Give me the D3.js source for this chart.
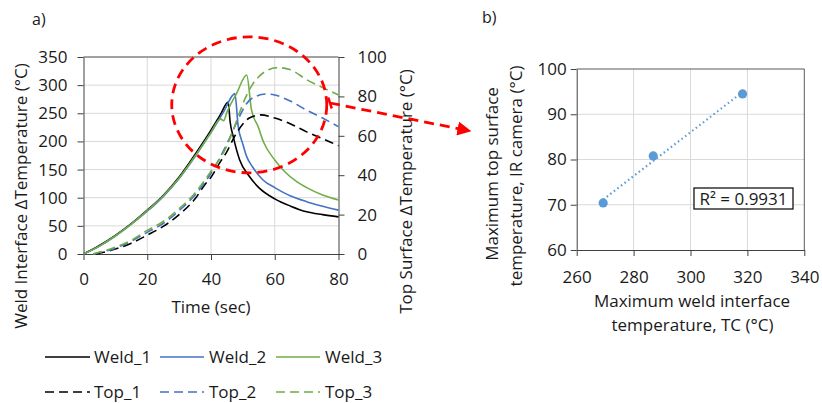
<!DOCTYPE html>
<html>
<head>
<meta charset="utf-8">
<script src="https://cdn.jsdelivr.net/npm/d3@7"></script>
<style>
  body { margin: 0; background: #fff; }
  svg { display: block; font-family: "Open Sans", sans-serif; }
</style>
</head>
<body>
<div id="visual"></div>
<script>
// panel a: weld interface (left axis) and top surface (right axis), [time, dT]
const weld1 = [[0,0],[5,15],[10,33],[15,54],[20,78],[25,104],[30,137],[35,177],[40,220],[43,248],[45.4,270],
               [46,235],[47,208],[49,167],[52,138],[55,118],[60,98],[65,85],[70,75],[75,70],[80,66]];
const weld2 = [[0,0],[5,14],[10,32],[15,53],[20,76],[25,102],[30,134],[35,173],[40,216],[44,253],[47.5,285],
               [48.5,228],[50,195],[51.2,173],[53,155],[56.4,131],[60,118],[65,103],[70,93],[75,85],[80,78]];
const weld3 = [[0,0],[5,14],[10,32],[15,53],[20,77],[25,103],[30,135],[35,174],[40,216],[43,240],[44,237],
               [45,252],[48,285],[51.2,318],[52.7,256],[54.8,226],[56.4,200],[60,167],[63,147],[67,128],
               [70,118],[75,105],[80,96]];
const top1 = [[4,0],[10,2.5],[15,5.5],[20,9.6],[25,14],[30,20],[35,28],[38,35],[40,39],[43,47],[45,52],
              [47.5,60],[50,66],[52,69],[55.5,70.6],[60,69],[65,66],[70,62],[75,58.5],[80,55]];
const top2 = [[3,0],[10,3],[15,6.5],[20,11],[25,15.5],[30,22],[35,30],[40,41],[45,56],[47,63],[49,70],
              [51,76],[54,80],[57.5,81.2],[60,80.7],[65,77.5],[70,73],[75,69],[80,64.6]];
const top3 = [[3,0],[10,3.5],[15,7],[20,12],[25,16.5],[30,23],[35,31],[40,42],[45,55],[47,63],[49,72],
              [51,80],[53,86],[55,90],[58,93.5],[61,94.6],[65,93.5],[70,88.5],[75,84.5],[80,80.7]];

const timeTicks = [0, 20, 40, 60, 80];
const weldTicks = [0, 50, 100, 150, 200, 250, 300, 350];
const topTicks = [0, 20, 40, 60, 80, 100];

// panel b: peak values
const maxWeld = [269.3, 286.9, 318.3];
const maxTop = [70.4, 80.8, 94.5];
const bxTicks = [260, 280, 300, 320, 340];
const byTicks = [60, 70, 80, 90, 100];

const black = "#000000", blue = "#4472C4", green = "#70AD47";
const series = [
  { name: "Weld_1", data: weld1, color: black, dash: null, axis: "L" },
  { name: "Weld_2", data: weld2, color: blue, dash: null, axis: "L" },
  { name: "Weld_3", data: weld3, color: green, dash: null, axis: "L" },
  { name: "Top_1", data: top1, color: black, dash: "9,5", axis: "R" },
  { name: "Top_2", data: top2, color: blue, dash: "9,5", axis: "R" },
  { name: "Top_3", data: top3, color: green, dash: "9,5", axis: "R" }
];

const svg = d3.select("#visual").append("svg")
  .attr("width", 822).attr("height", 403);

const defs = svg.append("defs");
defs.append("marker")
  .attr("id", "head").attr("viewBox", "0 0 10 10")
  .attr("refX", 9).attr("refY", 5)
  .attr("markerWidth", 5).attr("markerHeight", 5)
  .attr("orient", "auto")
  .append("path").attr("d", "M0,0 L10,5 L0,10 Z").attr("fill", "#ff0000");

function styleAxis(g, size) {
  g.select(".domain").attr("stroke", "#404040");
  g.selectAll(".tick line").attr("stroke", "#404040");
  g.selectAll("text").attr("font-size", size).attr("fill", "#1a1a1a")
    .attr("font-family", "'Open Sans', sans-serif");
}

// ---------- panel a ----------
const x = d3.scaleLinear().domain([0, 80]).range([83.5, 338.5]);
const yL = d3.scaleLinear().domain([0, 350]).range([254, 57]);
const yR = d3.scaleLinear().domain([0, 100]).range([254, 57]);

svg.append("g").selectAll("line").data(timeTicks.slice(1, -1)).enter().append("line")
  .attr("x1", d => x(d)).attr("x2", d => x(d)).attr("y1", 57).attr("y2", 254)
  .attr("stroke", "#d9d9d9");
svg.append("g").selectAll("line").data(weldTicks.slice(1)).enter().append("line")
  .attr("x1", 83.5).attr("x2", 338.5).attr("y1", d => yL(d)).attr("y2", d => yL(d))
  .attr("stroke", "#d9d9d9");
svg.append("line").attr("x1", 83.5).attr("x2", 338.5).attr("y1", 57).attr("y2", 57)
  .attr("stroke", "#595959");

svg.append("g").attr("transform", "translate(0,254)")
  .call(d3.axisBottom(x).tickValues(timeTicks).tickSize(6).tickSizeOuter(0).tickPadding(13))
  .call(g => styleAxis(g, 17));
svg.append("g").attr("transform", "translate(83.5,0)")
  .call(d3.axisLeft(yL).tickValues(weldTicks).tickSize(6).tickSizeOuter(0).tickPadding(10))
  .call(g => styleAxis(g, 17));
svg.append("g").attr("transform", "translate(338.5,0)")
  .call(d3.axisRight(yR).tickValues(topTicks).tickSize(6).tickSizeOuter(0).tickPadding(13))
  .call(g => styleAxis(g, 17));

series.forEach(s => {
  const yy = s.axis === "L" ? yL : yR;
  const line = d3.line().x(d => x(d[0])).y(d => yy(d[1])).curve(d3.curveMonotoneX);
  svg.append("path").datum(s.data)
    .attr("d", line).attr("fill", "none")
    .attr("stroke", s.color).attr("stroke-width", 1.6)
    .attr("stroke-dasharray", s.dash);
});

// axis titles a
svg.append("text").attr("transform", "translate(27,196) rotate(-90)")
  .attr("text-anchor", "middle").attr("font-size", 17).attr("fill", "#1a1a1a")
  .text("Weld Interface \u0394Temperature (\u00b0C)");
svg.append("text").attr("transform", "translate(411.5,191.5) rotate(-90)")
  .attr("text-anchor", "middle").attr("font-size", 17).attr("fill", "#1a1a1a")
  .text("Top Surface \u0394Temperature (\u00b0C)");
svg.append("text").attr("x", 211).attr("y", 313)
  .attr("text-anchor", "middle").attr("font-size", 17).attr("fill", "#1a1a1a")
  .text("Time (sec)");
svg.append("text").attr("x", 32).attr("y", 25)
  .attr("font-size", 16).attr("fill", "#1a1a1a").text("a)");

// legend
const legX = [[45, 90, 94], [160, 204, 209], [276, 320, 325]];
series.forEach((s, i) => {
  const col = i % 3, row = Math.floor(i / 3);
  const ly = row === 0 ? 357 : 392;
  const g = svg.append("g");
  g.append("line").attr("x1", legX[col][0]).attr("x2", legX[col][1])
    .attr("y1", ly).attr("y2", ly)
    .attr("stroke", s.color).attr("stroke-width", 1.6).attr("stroke-dasharray", s.dash);
  g.append("text").attr("x", legX[col][2]).attr("y", ly + 6)
    .attr("font-size", 17).attr("fill", "#1a1a1a").text(s.name);
});

// red highlight ellipse and arrow
svg.append("ellipse")
  .attr("cx", x(52)).attr("cy", yL(265)).attr("rx", 77.5).attr("ry", 68)
  .attr("fill", "none").attr("stroke", "#ff0000").attr("stroke-width", 2.8)
  .attr("stroke-dasharray", "10,6");
svg.append("line").attr("x1", 330).attr("y1", 103).attr("x2", 470).attr("y2", 131)
  .attr("stroke", "#ff0000").attr("stroke-width", 2.8).attr("stroke-dasharray", "10,6")
  .attr("marker-end", "url(#head)");
svg.append("line").attr("x1", 328.2).attr("y1", 97.5).attr("x2", 331.8).attr("y2", 108.5)
  .attr("stroke", "#ff0000").attr("stroke-width", 2.5);

// ---------- panel b ----------
const x2 = d3.scaleLinear().domain([260, 340]).range([576.7, 804.3]);
const y2 = d3.scaleLinear().domain([60, 100]).range([250, 69]);

svg.append("g").selectAll("line").data(bxTicks.slice(1, -1)).enter().append("line")
  .attr("x1", d => x2(d)).attr("x2", d => x2(d)).attr("y1", 69).attr("y2", 250)
  .attr("stroke", "#d9d9d9");
svg.append("g").selectAll("line").data(byTicks.slice(1, -1)).enter().append("line")
  .attr("x1", 576.7).attr("x2", 804.3).attr("y1", d => y2(d)).attr("y2", d => y2(d))
  .attr("stroke", "#d9d9d9");
svg.append("path").attr("d", `M576.7,69H804.3V250`).attr("fill", "none").attr("stroke", "#595959");

svg.append("g").attr("transform", "translate(0,250)")
  .call(d3.axisBottom(x2).tickValues(bxTicks).tickSize(6).tickSizeOuter(0).tickPadding(15))
  .call(g => styleAxis(g, 17));
svg.append("g").attr("transform", "translate(576.7,0)")
  .call(d3.axisLeft(y2).tickValues(byTicks).tickSize(6).tickSizeOuter(0).tickPadding(4))
  .call(g => styleAxis(g, 17));

// linear trend
const mx = d3.mean(maxWeld), my = d3.mean(maxTop);
const slope = d3.sum(maxWeld, (v, i) => (v - mx) * (maxTop[i] - my)) / d3.sum(maxWeld, v => (v - mx) ** 2);
const icpt = my - slope * mx;
const [xa, xb] = d3.extent(maxWeld);
svg.append("line")
  .attr("x1", x2(xa)).attr("y1", y2(icpt + slope * xa))
  .attr("x2", x2(xb)).attr("y2", y2(icpt + slope * xb))
  .attr("stroke", "#5B9BD5").attr("stroke-width", 2.2).attr("stroke-dasharray", "1.5,3");

svg.append("g").selectAll("circle").data(maxWeld).enter().append("circle")
  .attr("cx", d => x2(d)).attr("cy", (d, i) => y2(maxTop[i])).attr("r", 4.6)
  .attr("fill", "#5B9BD5");

svg.append("rect").attr("x", 694).attr("y", 188).attr("width", 99).attr("height", 21)
  .attr("fill", "#fff").attr("stroke", "#000").attr("stroke-width", 1.2);
svg.append("text").attr("x", 743.5).attr("y", 204.5).attr("text-anchor", "middle")
  .attr("font-size", 17).attr("fill", "#1a1a1a").text("R\u00b2 = 0.9931");

svg.append("text").attr("transform", "translate(498,174) rotate(-90)")
  .attr("text-anchor", "middle").attr("font-size", 17).attr("fill", "#1a1a1a")
  .text("Maximum top surface");
svg.append("text").attr("transform", "translate(522,176) rotate(-90)")
  .attr("text-anchor", "middle").attr("font-size", 17).attr("fill", "#1a1a1a")
  .text("temperature, IR camera (\u00b0C)");
svg.append("text").attr("x", 692).attr("y", 307)
  .attr("text-anchor", "middle").attr("font-size", 17).attr("fill", "#1a1a1a")
  .text("Maximum weld interface");
svg.append("text").attr("x", 692.5).attr("y", 331)
  .attr("text-anchor", "middle").attr("font-size", 17).attr("fill", "#1a1a1a")
  .text("temperature, TC (\u00b0C)");
svg.append("text").attr("x", 482).attr("y", 23)
  .attr("font-size", 16).attr("fill", "#1a1a1a").text("b)");
</script>
</body>
</html>
